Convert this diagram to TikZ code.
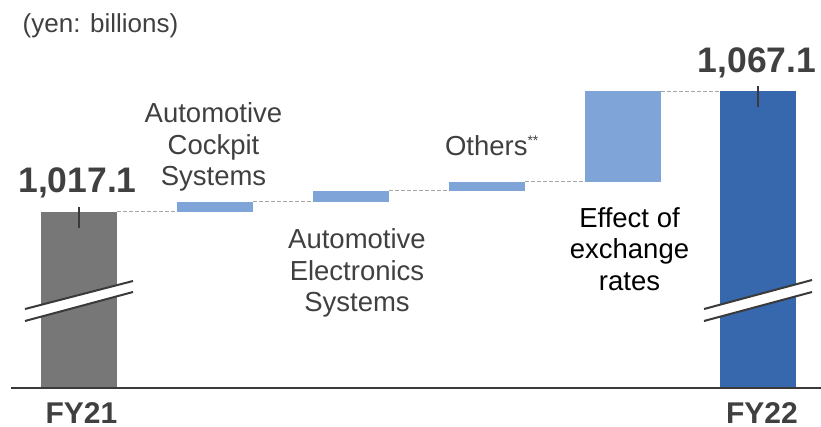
\documentclass[tikz,border=0pt]{standalone}
\usepackage{fontspec}
\setmainfont{Liberation Sans}
\definecolor{txt}{HTML}{404040}
\definecolor{gbar}{HTML}{777777}
\definecolor{lbar}{HTML}{7FA5D8}
\definecolor{dbar}{HTML}{3767AD}
\definecolor{dash}{HTML}{A6A6A6}
\definecolor{axis}{HTML}{3A3A3A}
\begin{document}
\begin{tikzpicture}[x=1pt,y=-1pt,
  bar/.style={rectangle,draw=none,inner sep=0pt,outer sep=0pt,minimum width=76pt},
  conn/.style={draw=dash,line width=1pt,dash pattern=on 4pt off 2pt},
  lbl/.style={inner sep=0pt,outer sep=0pt,text=txt,align=center,font=\fontsize{27.5}{31.5}\selectfont},
  big/.style={inner sep=0pt,outer sep=0pt,text=txt,font=\fontsize{35.5}{40}\selectfont\bfseries},
  fy/.style={inner sep=0pt,outer sep=0pt,text=txt,font=\fontsize{30}{34}\selectfont\bfseries},
  brk/.style={draw=axis,line width=2pt},
  tick/.style={draw=axis,line width=2pt}]
\useasboundingbox (0,0) rectangle (821,427);
% bars
\node[bar,fill=gbar,minimum height=175pt] (b0) at (79,299.5) {};
\node[bar,fill=lbar,minimum height=10pt] (b1) at (215,207) {};
\node[bar,fill=lbar,minimum height=11pt] (b2) at (351,196.5) {};
\node[bar,fill=lbar,minimum height=9pt] (b3) at (487,186.5) {};
\node[bar,fill=lbar,minimum height=90.5pt] (b4) at (623,136.75) {};
\node[bar,fill=dbar,minimum height=295.5pt] (b5) at (758,239.25) {};
% connectors
\draw[conn] (b0.north east) -- (b1.south west);
\draw[conn] (b1.north east) -- (b2.south west);
\draw[conn] (b2.north east) -- (b3.south west);
\draw[conn] (b3.north east) -- (b4.south west);
\draw[conn] (b4.north east) -- (b5.north west);
% axis
\coordinate (axl) at (11,387.5);
\coordinate (axr) at (821,387.5);
\draw[draw=axis,line width=2pt] (axl) -- (axr);
% breaks
\coordinate (p1) at (25,309); \coordinate (p2) at (133,281);
\coordinate (p3) at (133,292); \coordinate (p4) at (25,321);
\fill[white] (p1) -- (p2) -- (p3) -- (p4) -- cycle;
\draw[brk] (p1) -- (p2); \draw[brk] (p4) -- (p3);
\coordinate (q1) at (704,309); \coordinate (q2) at (812,280);
\coordinate (q3) at (812,292); \coordinate (q4) at (704,321);
\fill[white] (q1) -- (q2) -- (q3) -- (q4) -- cycle;
\draw[brk] (q1) -- (q2); \draw[brk] (q4) -- (q3);
% ticks
\coordinate (t0a) at (79,207); \coordinate (t0b) at (79,228);
\coordinate (t5a) at (758,86); \coordinate (t5b) at (758,107);
\draw[tick] (t0a) -- (t0b);
\draw[tick] (t5a) -- (t5b);
% texts
\node[inner sep=0pt,text=txt,font=\fontsize{26}{30}\selectfont,anchor=base west] (unit) at (22.5,33) {(yen: billions)};
\node[big,anchor=base] (v0) at (77.5,193) {1,017.1};
\node[big,anchor=base] (v5) at (757,73) {1,067.1};
\node[fy,anchor=base] (fy21) at (81.5,423) {FY21};
\node[fy,anchor=base] (fy22) at (762,423) {FY22};
\node[lbl,anchor=base] (l1) at (213.5,186) {Automotive\\Cockpit\\Systems};
\node[lbl,anchor=base] (l2) at (357,312) {Automotive\\Electronics\\Systems};
\node[lbl,anchor=base west] (l3) at (445,156) {Others\raisebox{10pt}{\fontsize{14}{16}\selectfont**}};
\node[lbl,text=black,anchor=base] (l4) at (629.5,290.5) {Effect of\\exchange\\rates};
\end{tikzpicture}
\end{document}
